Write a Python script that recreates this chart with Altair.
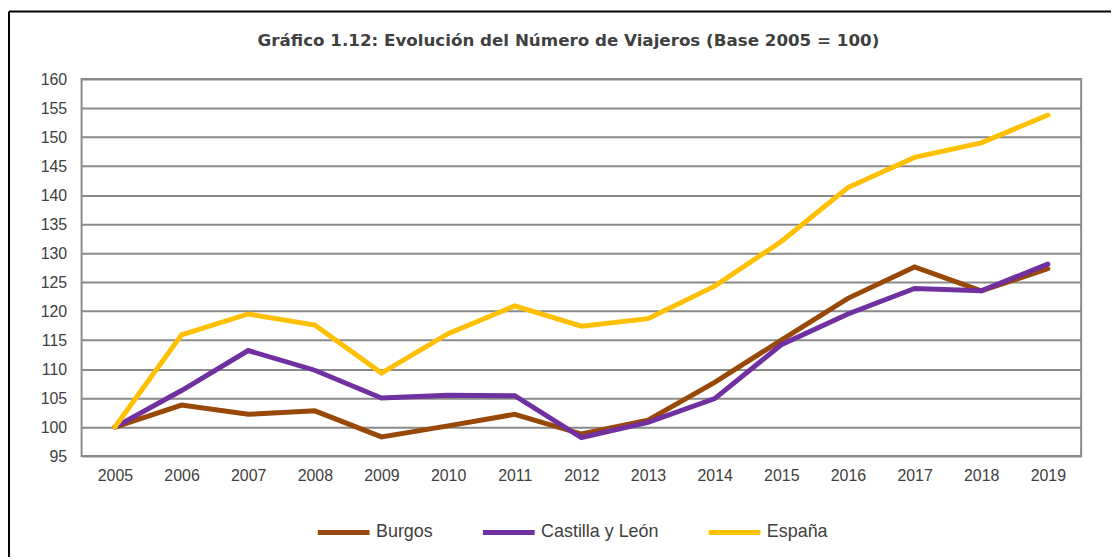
import altair as alt
import pandas as pd

years = [str(y) for y in range(2005, 2020)]
burgos = [100, 103.8, 102.2, 102.8, 98.3, 100.2, 102.2, 98.8, 101.2, 107.7, 115.0, 122.2, 127.6, 123.5, 127.3]
castilla = [100, 106.3, 113.2, 109.8, 105.0, 105.5, 105.4, 98.2, 100.8, 104.9, 114.2, 119.5, 123.9, 123.5, 128.1]
espana = [100, 115.9, 119.5, 117.6, 109.3, 116.1, 120.9, 117.4, 118.7, 124.3, 132.0, 141.3, 146.5, 149.0, 153.8]
series = ["Burgos", "Castilla y León", "España"]
colors = ["#984807", "#7030A0", "#FFC000"]
y_ticks = list(range(95, 161, 5))

rows = []
for name, vals in zip(series, [burgos, castilla, espana]):
    for yr, v in zip(years, vals):
        rows.append({"Año": yr, "Serie": name, "Valor": v})
df = pd.DataFrame(rows)

font = "Liberation Sans, Arial, sans-serif"

lines = alt.Chart(df).mark_line(strokeWidth=5, strokeCap="round", strokeJoin="miter").encode(
    x=alt.X("Año:N", sort=years, scale=alt.Scale(paddingInner=0, paddingOuter=0),
            axis=alt.Axis(title=None, labelAngle=0, ticks=False, domain=False, grid=False,
                          labelPadding=12, labelFontSize=16, labelFont=font, labelColor="#404040")),
    y=alt.Y("Valor:Q", scale=alt.Scale(domain=[95, 160], nice=False, zero=False),
            axis=alt.Axis(title=None, values=y_ticks, ticks=False, domain=False, grid=True,
                          gridColor="#8a8a8a", gridWidth=2, labelPadding=15, labelFontSize=16,
                          labelFont=font, labelColor="#404040")),
    color=alt.Color("Serie:N", sort=series, scale=alt.Scale(domain=series, range=colors),
                    legend=alt.Legend(title=None, orient="none", direction="horizontal",
                                      legendX=235, legendY=427, symbolType="stroke",
                                      symbolSize=2704, symbolStrokeWidth=5, labelFontSize=18,
                                      labelFont=font, labelColor="#404040",
                                      columnPadding=39, labelOffset=4)),
)

frame_top = alt.Chart(pd.DataFrame({"k": [0]})).mark_rule(color="#000000", strokeWidth=2, clip=False).encode(
    x=alt.value(-73), x2=alt.value(1200), y=alt.value(-68), y2=alt.value(-68)
)
frame_left = alt.Chart(pd.DataFrame({"k": [0]})).mark_rule(color="#000000", strokeWidth=2, clip=False).encode(
    x=alt.value(-73), x2=alt.value(-73), y=alt.value(-68), y2=alt.value(600)
)

chart = alt.layer(lines, frame_top, frame_left).properties(
    width=1005, height=379,
    autosize=alt.AutoSizeParams(type="none"),
    padding={"left": 74, "top": 70, "right": 30, "bottom": 100},
    title=alt.TitleParams("Gráfico 1.12: Evolución del Número de Viajeros (Base 2005 = 100)",
                          anchor="middle", dx=-13, offset=-40, fontSize=16.8, fontWeight="bold",
                          font="DejaVu Sans, Verdana, sans-serif", color="#404040"),
).configure_view(stroke="#8a8a8a", strokeWidth=2)

chart.save("out.html", embed_options={"renderer": "svg", "actions": False})
